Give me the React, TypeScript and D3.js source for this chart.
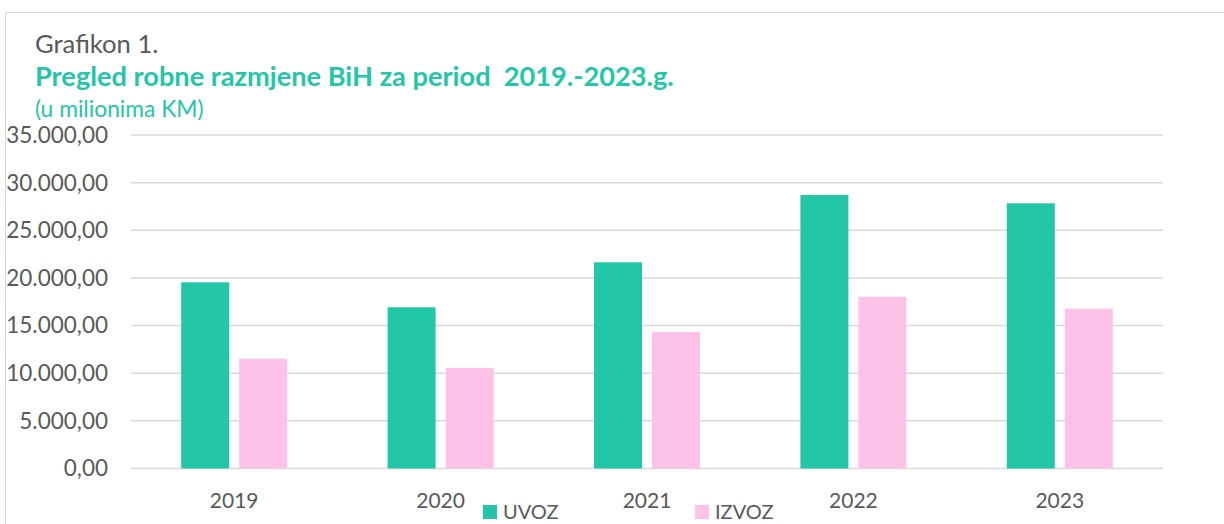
import React, { useEffect, useRef } from 'react';
import * as d3 from 'd3';

// values in millions of KM
const years = ['2019', '2020', '2021', '2022', '2023'];
const uvoz = [19540, 16920, 21640, 28700, 27830];
const izvoz = [11520, 10550, 14330, 18030, 16770];
const seriesNames = ['UVOZ', 'IZVOZ'];
const seriesColors = ['#23C6A7', '#FEC2E8'];
const yTicks = [0, 5000, 10000, 15000, 20000, 25000, 30000, 35000];

const W = 1224;
const H = 524;
const FONT = 'Lato, "Open Sans", sans-serif';

export default function App() {
  const ref = useRef<SVGSVGElement>(null);

  useEffect(() => {
    document.body.style.margin = '0';
    const svg = d3.select(ref.current);
    svg.selectAll('*').remove();

    const margin = { top: 135, right: 61, bottom: 55.5, left: 131 };

    const x0 = d3.scaleBand<string>()
      .domain(years)
      .range([margin.left, W - margin.right])
      .padding(0);

    // group of two bars, 48px each with a 10px gap
    const x1 = d3.scaleBand<string>()
      .domain(seriesNames)
      .range([0, 106])
      .paddingInner(0.1724)
      .paddingOuter(0);

    const y = d3.scaleLinear()
      .domain([0, 35000])
      .range([H - margin.bottom, margin.top]);

    const locale = d3.formatLocale({ decimal: ',', thousands: '.', grouping: [3], currency: ['', ''] });
    const fmt = locale.format(',.2f');

    // outer frame (left + top only visible)
    svg.append('path')
      .attr('d', `M5.5,${H} V12.5 H${W}`)
      .attr('fill', 'none')
      .attr('stroke', '#D9D9D9')
      .attr('stroke-width', 1);

    // titles
    svg.append('text')
      .attr('x', 35).attr('y', 53)
      .style('font-family', FONT).style('font-size', '25.6px')
      .attr('fill', '#595959')
      .text('Grafikon 1.');

    svg.append('text')
      .attr('x', 35).attr('y', 86)
      .style('font-family', FONT).style('font-size', '27.2px').style('font-weight', 'bold')
      .attr('fill', '#23C6A7')
      .attr('xml:space', 'preserve')
      .style('white-space', 'pre')
      .text('Pregled robne razmjene BiH za period  2019.-2023.g.');

    svg.append('text')
      .attr('x', 35).attr('y', 117)
      .style('font-family', FONT).style('font-size', '22.8px')
      .attr('fill', '#23C6A7')
      .text('(u milionima KM)');

    // gridlines
    svg.append('g')
      .selectAll('line')
      .data(yTicks)
      .enter()
      .append('line')
      .attr('x1', margin.left)
      .attr('x2', W - margin.right)
      .attr('y1', d => y(d))
      .attr('y2', d => y(d))
      .attr('stroke', '#D9D9D9')
      .attr('stroke-width', 1.5);

    // y labels
    svg.append('g')
      .selectAll('text')
      .data(yTicks)
      .enter()
      .append('text')
      .attr('x', 108)
      .attr('y', d => y(d))
      .attr('dy', '0.35em')
      .attr('text-anchor', 'end')
      .style('font-family', FONT).style('font-size', '22.5px')
      .attr('fill', '#595959')
      .text(d => fmt(d));

    // bars
    const rows = years.map((yr, i) => ({ year: yr, values: [uvoz[i], izvoz[i]] }));
    const groups = svg.append('g')
      .selectAll('g')
      .data(rows)
      .enter()
      .append('g')
      .attr('transform', d => `translate(${x0(d.year)! + x0.bandwidth() / 2 - 53},0)`);

    groups.selectAll('rect')
      .data(d => d.values.map((v, k) => ({ key: seriesNames[k], v, k })))
      .enter()
      .append('rect')
      .attr('x', d => x1(d.key)!)
      .attr('y', d => y(d.v))
      .attr('width', x1.bandwidth())
      .attr('height', d => y(0) - y(d.v))
      .attr('fill', d => seriesColors[d.k]);

    // x labels
    svg.append('g')
      .selectAll('text')
      .data(years)
      .enter()
      .append('text')
      .attr('x', d => x0(d)! + x0.bandwidth() / 2)
      .attr('y', 508)
      .attr('text-anchor', 'middle')
      .style('font-family', FONT).style('font-size', '21px')
      .attr('fill', '#595959')
      .text(d => d);

    // legend
    const legendX = [483, 695];
    const legend = svg.append('g')
      .selectAll('g')
      .data(seriesNames)
      .enter()
      .append('g')
      .attr('transform', (d, i) => `translate(${legendX[i]},505)`);

    legend.append('rect')
      .attr('width', 14).attr('height', 14)
      .attr('fill', (d, i) => seriesColors[i]);

    legend.append('text')
      .attr('x', 20).attr('y', 14)
      .style('font-family', FONT).style('font-size', '20px')
      .attr('fill', '#595959')
      .text(d => d);
  }, []);

  return (
    <svg
      ref={ref}
      width={W}
      height={H}
      style={{ position: 'absolute', left: 0, top: 0, background: '#fff' }}
    />
  );
}
